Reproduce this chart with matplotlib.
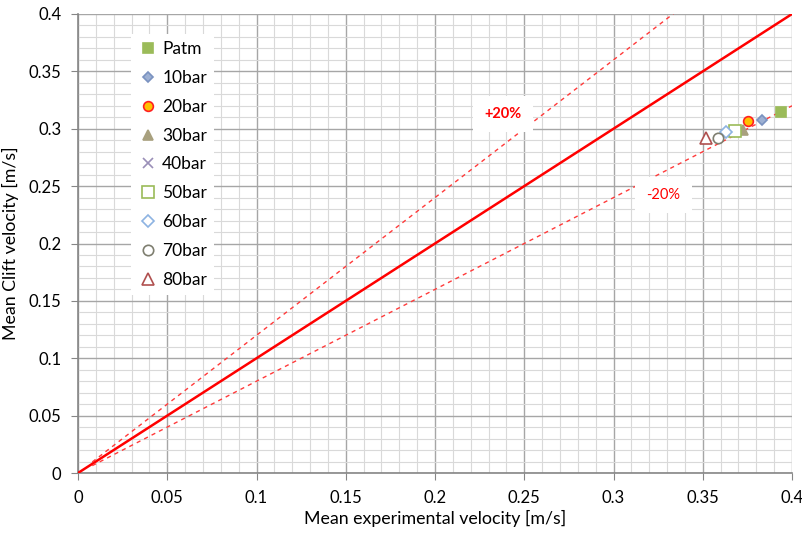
import numpy as np
import matplotlib
matplotlib.use("Agg")
import matplotlib.pyplot as plt
from matplotlib.ticker import MultipleLocator

plt.rcParams['font.family'] = ['Lato', 'DejaVu Sans']

# data (mean experimental velocity, mean Clift velocity)
series_names = ['Patm', '10bar', '20bar', '30bar', '40bar', '50bar', '60bar', '70bar', '80bar']
exp_velocity = [0.3938, 0.3830, 0.3755, 0.3727, 0.3650, 0.3680, 0.3628, 0.3587, 0.3518]
clift_velocity = [0.3143, 0.3076, 0.3067, 0.2989, 0.2975, 0.2980, 0.2975, 0.2922, 0.2917]

# marker styles (marker, face, edge, size)
styles = [
    ('s', '#9BBB59', '#9BBB59', 7),
    ('D', '#9DB0D3', '#7A92C0', 5.5),
    ('o', '#FFC000', '#FF2020', 7),
    ('^', '#A8A07E', '#A8A07E', 7.5),
    ('x', 'none', '#9A8FB8', 7),
    ('s', 'white', '#9BBB59', 8),
    ('D', 'white', '#8DB3E2', 6.5),
    ('o', 'white', '#7F7F70', 7.5),
    ('^', 'white', '#B0504F', 8),
]

# reference lines
line_x = [0.0, 0.4]
band_x = [0.008, 0.4]
band_plus = 1.2
band_minus = 0.8

fig = plt.figure(figsize=(8.02, 5.33), dpi=100)
ax = fig.add_axes([78/802, 1-473/533, (792-78)/802, (473-14)/533])

ax.set_xlim(0, 0.4)
ax.set_ylim(0, 0.4)
ax.xaxis.set_major_locator(MultipleLocator(0.05))
ax.yaxis.set_major_locator(MultipleLocator(0.05))
ax.xaxis.set_minor_locator(MultipleLocator(0.01))
ax.yaxis.set_minor_locator(MultipleLocator(0.01))
ax.grid(which='major', color='#A6A6A6', lw=1.0)
ax.grid(which='minor', color='#D9D9D9', lw=0.8)
ax.set_axisbelow(True)
ax.tick_params(which='minor', length=0)
ax.tick_params(which='major', length=5, color='#868686', labelsize=12, labelcolor='black', pad=7)
for s in ['top', 'right']:
    ax.spines[s].set_visible(False)
for s in ['left', 'bottom']:
    ax.spines[s].set_color('#868686')
    ax.spines[s].set_linewidth(1.2)

def fmt(v, pos):
    s = ('%.2f' % v).rstrip('0').rstrip('.')
    return s
ax.xaxis.set_major_formatter(plt.FuncFormatter(fmt))
ax.yaxis.set_major_formatter(plt.FuncFormatter(fmt))

ax.plot(line_x, line_x, color='#FF0000', lw=1.8, zorder=3)
ax.plot(band_x, [band_plus*v for v in band_x], color='#FF3A3A', lw=1.0, ls=(0, (3, 3)), zorder=3)
ax.plot(band_x, [band_minus*v for v in band_x], color='#FF3A3A', lw=1.0, ls=(0, (3, 3)), zorder=3)

for name, xv, yv, (m, fc, ec, ms) in zip(series_names, exp_velocity, clift_velocity, styles):
    ax.plot([xv], [yv], ls='none', marker=m, ms=ms, markerfacecolor=fc,
            markeredgecolor=ec, markeredgewidth=1.2, label=name, zorder=5)

ax.text(0.238, 0.313, '+20%', color='#FF0000', fontsize=10.5, fontweight='bold',
        ha='center', va='center', zorder=4,
        bbox=dict(facecolor='white', edgecolor='none', pad=8))
ax.text(0.328, 0.242, '-20%', color='#FF0000', fontsize=10.5,
        ha='center', va='center', zorder=4,
        bbox=dict(facecolor='white', edgecolor='none', pad=8))

leg = ax.legend(loc='upper left', bbox_to_anchor=(0.062, 0.975), frameon=True,
                fontsize=12.5, labelspacing=0.74, handletextpad=0.2,
                handlelength=1.2, borderpad=0.4, fancybox=False)
leg.get_frame().set_edgecolor('none')
leg.get_frame().set_facecolor('white')
leg.get_frame().set_alpha(1)

ax.set_xlabel('Mean experimental velocity [m/s]', fontsize=12.8, labelpad=3)
ax.set_ylabel('Mean Clift velocity [m/s]', fontsize=12.8, labelpad=7)

fig.savefig('out.png', dpi=100)
